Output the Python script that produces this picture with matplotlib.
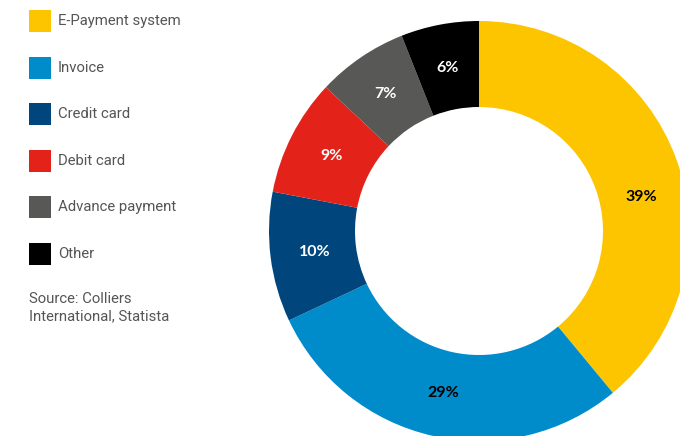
import matplotlib.pyplot as plt
import numpy as np

# payment method shares (%)
methods = ['E-Payment system', 'Invoice', 'Credit card', 'Debit card', 'Advance payment', 'Other']
shares = [39, 29, 10, 9, 7, 6]
colors = ['#FDC500', '#008BCB', '#00457C', '#E3231A', '#585857', '#000000']
label_colors = ['black', 'black', 'white', 'white', 'white', 'white']
source = 'Source: Colliers\nInternational, Statista'

W, H = 680, 436
fig = plt.figure(figsize=(W / 100, H / 100), dpi=100)
ax = fig.add_axes([0, 0, 1, 1])

# donut, drawn in pixel units
cx, cy, r_out, r_in = 479, H - 231, 210, 124
wedges, _ = ax.pie(shares, colors=colors, startangle=90, counterclock=False,
                   center=(cx, cy), radius=r_out, frame=True,
                   wedgeprops=dict(width=r_out - r_in, linewidth=0))
ax.set_xlim(0, W)
ax.set_ylim(0, H)
ax.set_aspect('equal')
ax.axis('off')

# percentage labels in the middle of the ring
r_mid = (r_out + r_in) / 2 - 1
start = 90.0
for i, (s, c) in enumerate(zip(shares, label_colors)):
    mid = start - s * 3.6 / 2
    start -= s * 3.6
    if i == 0:
        mid -= 8  # keep the big label away from the cut edge
    a = np.deg2rad(mid)
    ax.text(cx + r_mid * np.cos(a), cy + r_mid * np.sin(a), f'{s}%',
            color=c, fontsize=11.5, fontweight='bold', family='Lato',
            ha='center', va='center')

# legend
y0, step = H - 21, 46.6
for i, (m, c) in enumerate(zip(methods, colors)):
    y = y0 - i * step
    ax.add_patch(plt.Rectangle((29, y - 11), 22, 22, color=c, lw=0))
    ax.text(58, y, m, color='#555555', fontsize=10.7, family='Roboto',
            ha='left', va='center')

ax.text(29, H - 292, source, color='#555555', fontsize=10.7, family='Roboto',
        ha='left', va='top', linespacing=1.3)

fig.savefig('out.png', dpi=100)
